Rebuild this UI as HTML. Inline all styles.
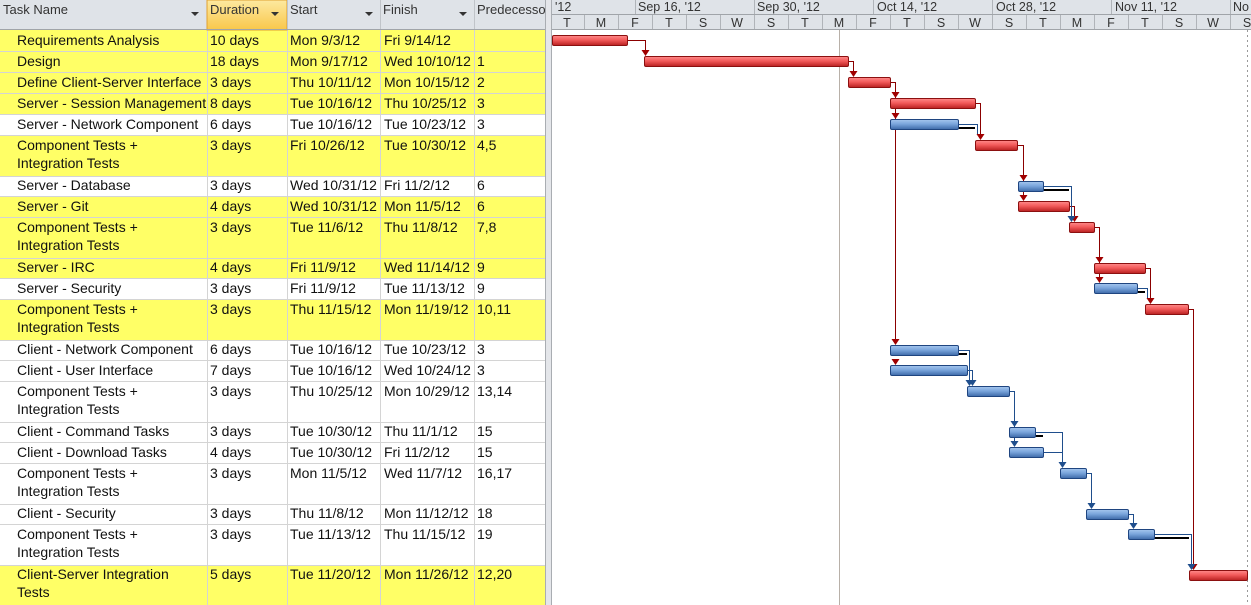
<!DOCTYPE html>
<html><head><meta charset="utf-8"><style>
html,body{margin:0;padding:0;background:#fff;}
svg{display:block;font-family:"Liberation Sans",sans-serif;}
</style></head><body>
<svg width="1251" height="605" xmlns="http://www.w3.org/2000/svg">
<defs>
<linearGradient id="gr" x1="0" y1="0" x2="0" y2="1"><stop offset="0" stop-color="#ff8a8a"/><stop offset="0.45" stop-color="#f25a5a"/><stop offset="1" stop-color="#b82020"/></linearGradient>
<linearGradient id="gb" x1="0" y1="0" x2="0" y2="1"><stop offset="0" stop-color="#a6c6ee"/><stop offset="0.45" stop-color="#7aa5dc"/><stop offset="1" stop-color="#3d69a8"/></linearGradient>
<linearGradient id="gh" x1="0" y1="0" x2="0" y2="1"><stop offset="0" stop-color="#fde9a0"/><stop offset="1" stop-color="#f9c74a"/></linearGradient>
</defs>
<rect width="1251" height="605" fill="#fff"/>
<g fill="#ffff66">
<rect x="0" y="30" width="545" height="84"/>
<rect x="0" y="135" width="545" height="41"/>
<rect x="0" y="196" width="545" height="82"/>
<rect x="0" y="299" width="545" height="41"/>
<rect x="0" y="565" width="545" height="40"/>
</g>
<g stroke="#d4d4d4" stroke-width="1">
<path d="M0 51.5H545M0 72.5H545M0 93.5H545M0 114.5H545M0 135.5H545M0 176.5H545M0 196.5H545M0 217.5H545M0 258.5H545M0 278.5H545M0 299.5H545M0 340.5H545M0 360.5H545M0 381.5H545M0 422.5H545M0 442.5H545M0 463.5H545M0 504.5H545M0 524.5H545M0 565.5H545"/>
<path d="M207.5 30V605M287.5 30V605M380.5 30V605M474.5 30V605"/>
</g>
<rect x="0" y="0" width="545" height="30" fill="#dfe3e8"/>
<rect x="207" y="0" width="80" height="30" fill="url(#gh)" stroke="#e0a030"/>
<path d="M287.5 0V30M380.5 0V30M474.5 0V30" stroke="#c0c4c9"/>
<path d="M0 29.5H545" stroke="#a0a4a9"/>
<g font-size="13" fill="#333">
<text x="3" y="14">Task Name</text><text x="210" y="14">Duration</text><text x="290" y="14">Start</text><text x="383" y="14">Finish</text><text x="477" y="14">Predecessors</text>
</g>
<rect x="545" y="0" width="7" height="605" fill="#e4e6ea"/>
<g fill="#333"><path d="M191 12h8l-4 4z"/><path d="M271 12h8l-4 4z"/><path d="M365 12h8l-4 4z"/><path d="M459 12h8l-4 4z"/></g>
<path d="M545.5 0V605M551.5 0V605" stroke="#a9adb2"/>
<g font-size="14" fill="#111">
<text x="17" y="45">Requirements Analysis</text><text x="210" y="45">10 days</text><text x="290" y="45">Mon 9/3/12</text><text x="384" y="45">Fri 9/14/12</text>
<text x="17" y="66">Design</text><text x="210" y="66">18 days</text><text x="290" y="66">Mon 9/17/12</text><text x="384" y="66">Wed 10/10/12</text><text x="477" y="66">1</text>
<text x="17" y="87">Define Client-Server Interface</text><text x="210" y="87">3 days</text><text x="290" y="87">Thu 10/11/12</text><text x="384" y="87">Mon 10/15/12</text><text x="477" y="87">2</text>
<text x="17" y="108">Server - Session Management</text><text x="210" y="108">8 days</text><text x="290" y="108">Tue 10/16/12</text><text x="384" y="108">Thu 10/25/12</text><text x="477" y="108">3</text>
<text x="17" y="129">Server - Network Component</text><text x="210" y="129">6 days</text><text x="290" y="129">Tue 10/16/12</text><text x="384" y="129">Tue 10/23/12</text><text x="477" y="129">3</text>
<text x="17" y="150">Component Tests +</text><text x="17" y="168">Integration Tests</text><text x="210" y="150">3 days</text><text x="290" y="150">Fri 10/26/12</text><text x="384" y="150">Tue 10/30/12</text><text x="477" y="150">4,5</text>
<text x="17" y="190">Server - Database</text><text x="210" y="190">3 days</text><text x="290" y="190">Wed 10/31/12</text><text x="384" y="190">Fri 11/2/12</text><text x="477" y="190">6</text>
<text x="17" y="211">Server - Git</text><text x="210" y="211">4 days</text><text x="290" y="211">Wed 10/31/12</text><text x="384" y="211">Mon 11/5/12</text><text x="477" y="211">6</text>
<text x="17" y="232">Component Tests +</text><text x="17" y="250">Integration Tests</text><text x="210" y="232">3 days</text><text x="290" y="232">Tue 11/6/12</text><text x="384" y="232">Thu 11/8/12</text><text x="477" y="232">7,8</text>
<text x="17" y="272">Server - IRC</text><text x="210" y="272">4 days</text><text x="290" y="272">Fri 11/9/12</text><text x="384" y="272">Wed 11/14/12</text><text x="477" y="272">9</text>
<text x="17" y="293">Server - Security</text><text x="210" y="293">3 days</text><text x="290" y="293">Fri 11/9/12</text><text x="384" y="293">Tue 11/13/12</text><text x="477" y="293">9</text>
<text x="17" y="314">Component Tests +</text><text x="17" y="332">Integration Tests</text><text x="210" y="314">3 days</text><text x="290" y="314">Thu 11/15/12</text><text x="384" y="314">Mon 11/19/12</text><text x="477" y="314">10,11</text>
<text x="17" y="354">Client - Network Component</text><text x="210" y="354">6 days</text><text x="290" y="354">Tue 10/16/12</text><text x="384" y="354">Tue 10/23/12</text><text x="477" y="354">3</text>
<text x="17" y="375">Client - User Interface</text><text x="210" y="375">7 days</text><text x="290" y="375">Tue 10/16/12</text><text x="384" y="375">Wed 10/24/12</text><text x="477" y="375">3</text>
<text x="17" y="396">Component Tests +</text><text x="17" y="414">Integration Tests</text><text x="210" y="396">3 days</text><text x="290" y="396">Thu 10/25/12</text><text x="384" y="396">Mon 10/29/12</text><text x="477" y="396">13,14</text>
<text x="17" y="436">Client - Command Tasks</text><text x="210" y="436">3 days</text><text x="290" y="436">Tue 10/30/12</text><text x="384" y="436">Thu 11/1/12</text><text x="477" y="436">15</text>
<text x="17" y="457">Client - Download Tasks</text><text x="210" y="457">4 days</text><text x="290" y="457">Tue 10/30/12</text><text x="384" y="457">Fri 11/2/12</text><text x="477" y="457">15</text>
<text x="17" y="478">Component Tests +</text><text x="17" y="496">Integration Tests</text><text x="210" y="478">3 days</text><text x="290" y="478">Mon 11/5/12</text><text x="384" y="478">Wed 11/7/12</text><text x="477" y="478">16,17</text>
<text x="17" y="518">Client - Security</text><text x="210" y="518">3 days</text><text x="290" y="518">Thu 11/8/12</text><text x="384" y="518">Mon 11/12/12</text><text x="477" y="518">18</text>
<text x="17" y="539">Component Tests +</text><text x="17" y="557">Integration Tests</text><text x="210" y="539">3 days</text><text x="290" y="539">Tue 11/13/12</text><text x="384" y="539">Thu 11/15/12</text><text x="477" y="539">19</text>
<text x="17" y="579">Client-Server Integration</text><text x="17" y="597">Tests</text><text x="210" y="579">5 days</text><text x="290" y="579">Tue 11/20/12</text><text x="384" y="579">Mon 11/26/12</text><text x="477" y="579">12,20</text>
</g>
<rect x="552" y="0" width="699" height="30" fill="#dfe3e8"/>
<path d="M552 14.5H1251M552 29.5H1251" stroke="#a0a4a9"/>
<path d="M635.5 0V14M754.5 0V14M873.5 0V14M992.5 0V14M1111.5 0V14M1230.5 0V14" stroke="#b0b4b9"/>
<path d="M584.5 15V29M618.5 15V29M652.5 15V29M686.5 15V29M720.5 15V29M754.5 15V29M788.5 15V29M822.5 15V29M856.5 15V29M890.5 15V29M924.5 15V29M958.5 15V29M992.5 15V29M1026.5 15V29M1060.5 15V29M1094.5 15V29M1128.5 15V29M1162.5 15V29M1196.5 15V29M1230.5 15V29" stroke="#b0b4b9"/>
<g font-size="12.5" fill="#333">
<text x="555" y="11">'12</text><text x="638" y="11">Sep 16, '12</text><text x="757" y="11">Sep 30, '12</text><text x="877" y="11">Oct 14, '12</text><text x="996" y="11">Oct 28, '12</text><text x="1115" y="11">Nov 11, '12</text><text x="1233" y="11">No</text>
</g>
<g font-size="12.5" fill="#333" text-anchor="middle">
<text x="567" y="27">T</text><text x="601" y="27">M</text><text x="635" y="27">F</text><text x="669" y="27">T</text><text x="703" y="27">S</text><text x="737" y="27">W</text><text x="771" y="27">S</text><text x="805" y="27">T</text><text x="839" y="27">M</text><text x="873" y="27">F</text><text x="907" y="27">T</text><text x="941" y="27">S</text><text x="975" y="27">W</text><text x="1009" y="27">S</text><text x="1043" y="27">T</text><text x="1077" y="27">M</text><text x="1111" y="27">F</text><text x="1145" y="27">T</text><text x="1179" y="27">S</text><text x="1213" y="27">W</text><text x="1247" y="27">S</text>
</g>
<path d="M839.5 30V605" stroke="#b8b0a8"/>
<path d="M1247.5 30V605" stroke="#999" stroke-dasharray="2,3"/>
<g stroke="#000" stroke-width="2">
<path d="M958 128H975M1043 190H1069M1137 292H1145M958 354H967M1035 436H1043M1154 538H1189"/>
</g>
<g fill="none" stroke="#8b0000" stroke-width="1">
<path d="M627 40.5H645.5V51"/>
<path d="M848 61.5H853.5V72"/>
<path d="M890 82.5H895.5V340"/>
<path d="M975 103.5H980.5V135"/>
<path d="M1018 145.5H1023.5V196"/>
<path d="M1069 206.5H1074.5V217"/>
<path d="M1094 227.5H1099.5V278"/>
<path d="M1145 268.5H1150.5V299"/>
<path d="M1188 309.5H1193.5V565"/>
</g>
<g fill="none" stroke="#1f4e8c" stroke-width="1">
<path d="M958 124.5H977.5V135"/>
<path d="M1043 186.5H1071.5V217"/>
<path d="M1137 288.5H1147.5V299"/>
<path d="M958 350.5H969.5V381"/>
<path d="M967 370.5H972.5V381"/>
<path d="M1009 391.5H1014.5V442"/>
<path d="M1035 432.5H1062.5V463"/>
<path d="M1043 452.5H1062.5"/>
<path d="M1086 473.5H1091.5V504"/>
<path d="M1128 514.5H1133.5V524"/>
<path d="M1154 534.5H1191.5V565"/>
</g>
<g fill="#a00000">
<path d="M641.5 50h8l-4 6z"/><path d="M849.5 71h8l-4 6z"/><path d="M891.5 92h8l-4 6z"/><path d="M891.5 113h8l-4 6z"/><path d="M891.5 339h8l-4 6z"/><path d="M891.5 359h8l-4 6z"/>
<path d="M976.5 134h8l-4 6z"/><path d="M1019.5 175h8l-4 6z"/><path d="M1019.5 195h8l-4 6z"/><path d="M1070.5 216h8l-4 6z"/><path d="M1095.5 257h8l-4 6z"/><path d="M1095.5 277h8l-4 6z"/><path d="M1146.5 298h8l-4 6z"/><path d="M1189.5 564h8l-4 6z"/>
</g>
<g fill="#1f4e8c">
<path d="M1067.5 216h8l-4 6z"/><path d="M965.5 380h8l-4 6z"/><path d="M968.5 380h8l-4 6z"/><path d="M1010.5 421h8l-4 6z"/><path d="M1010.5 441h8l-4 6z"/><path d="M1058.5 462h8l-4 6z"/><path d="M1087.5 503h8l-4 6z"/><path d="M1129.5 523h8l-4 6z"/><path d="M1187.5 564h8l-4 6z"/>
</g>
<g stroke="#8b1010" stroke-width="1" fill="url(#gr)">
<rect x="552.5" y="35.5" width="75" height="10" rx="1.5"/>
<rect x="644.5" y="56.5" width="204" height="10" rx="1.5"/>
<rect x="848.5" y="77.5" width="42" height="10" rx="1.5"/>
<rect x="890.5" y="98.5" width="85" height="10" rx="1.5"/>
<rect x="975.5" y="140.5" width="42" height="10" rx="1.5"/>
<rect x="1018.5" y="201.5" width="51" height="10" rx="1.5"/>
<rect x="1069.5" y="222.5" width="25" height="10" rx="1.5"/>
<rect x="1094.5" y="263.5" width="51" height="10" rx="1.5"/>
<rect x="1145.5" y="304.5" width="43" height="10" rx="1.5"/>
<rect x="1189.5" y="570.5" width="58" height="10" rx="1.5"/>
</g>
<g stroke="#1f4580" stroke-width="1" fill="url(#gb)">
<rect x="890.5" y="119.5" width="68" height="10" rx="1.5"/>
<rect x="1018.5" y="181.5" width="25" height="10" rx="1.5"/>
<rect x="1094.5" y="283.5" width="43" height="10" rx="1.5"/>
<rect x="890.5" y="345.5" width="68" height="10" rx="1.5"/>
<rect x="890.5" y="365.5" width="77" height="10" rx="1.5"/>
<rect x="967.5" y="386.5" width="42" height="10" rx="1.5"/>
<rect x="1009.5" y="427.5" width="26" height="10" rx="1.5"/>
<rect x="1009.5" y="447.5" width="34" height="10" rx="1.5"/>
<rect x="1060.5" y="468.5" width="26" height="10" rx="1.5"/>
<rect x="1086.5" y="509.5" width="42" height="10" rx="1.5"/>
<rect x="1128.5" y="529.5" width="26" height="10" rx="1.5"/>
</g>
</svg>
</body></html>
